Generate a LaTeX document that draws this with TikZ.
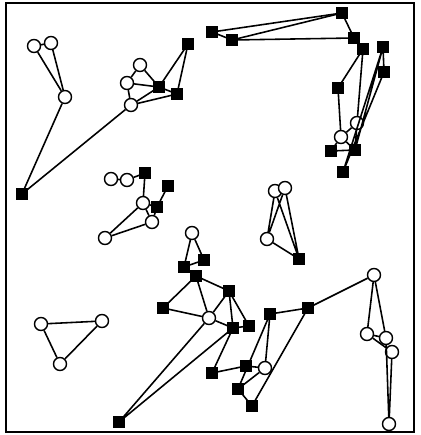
\documentclass[tikz,border=0pt]{standalone}
\usepackage{tikz}

\tikzset{
    wn/.style={circle, draw, fill=white, line width=0.8pt, minimum size=7.4pt, inner sep=0pt},
    bn/.style={rectangle, draw, fill=black, minimum size=5.9pt, inner sep=0pt},
    lk/.style={line width=0.9pt}
}

\begin{document}
\begin{tikzpicture}[x=0.02cm, y=-0.02cm]
    \useasboundingbox (0,0) rectangle (420,435);
    \draw[line width=1.3pt] (6,3) rectangle (414,432);

    % Top left
    \node[wn] (a1) at (34,46) {};
    \node[wn] (a2) at (51,43) {};
    \node[wn] (a3) at (65,97) {};
    \node[bn] (s1) at (22,194) {};
    \node[wn] (b1) at (140,65) {};
    \node[wn] (b2) at (127,83) {};
    \node[wn] (b3) at (131,105) {};
    \node[bn] (b4) at (159,87) {};
    \node[bn] (b5) at (177,94) {};
    \node[bn] (b6) at (188,44) {};
    \draw[lk] (a1) -- (a2) -- (a3) -- (a1);
    \draw[lk] (a3) -- (s1) -- (b3);
    \draw[lk] (b1) -- (b2) -- (b3) -- (b4) -- (b1);
    \draw[lk] (b2) -- (b4) -- (b5) -- (b6) -- (b4);
    \draw[lk] (b3) -- (b5);

    % Top right
    \node[bn] (t1) at (212,32) {};
    \node[bn] (t2) at (232,40) {};
    \node[bn] (t3) at (342,13) {};
    \node[bn] (t4) at (354,38) {};
    \draw[lk] (t1) -- (t3) -- (t4) -- (t2) -- (t1);
    \draw[lk] (t2) -- (t3);

    \node[bn] (r2) at (363,49) {};
    \node[bn] (r3) at (383,47) {};
    \node[bn] (r4) at (384,72) {};
    \node[bn] (r5) at (338,88) {};
    \node[wn] (r6) at (357,123) {};
    \node[wn] (r7) at (341,137) {};
    \node[bn] (r8) at (331,151) {};
    \node[bn] (r9) at (355,150) {};
    \node[bn] (r10) at (343,172) {};
    \draw[lk] (r2) -- (r5) -- (r7) -- (r6) -- (r2);
    \draw[lk] (r6) -- (r9) -- (r7) -- (r8) -- (r9);
    \draw[lk] (r3) -- (r4) -- (r10) -- (r3) -- (r9);

    % Middle
    \node[wn] (m1) at (111,179) {};
    \node[wn] (m2) at (127,180) {};
    \node[bn] (m3) at (145,173) {};
    \node[bn] (m4) at (168,186) {};
    \node[wn] (m5) at (143,203) {};
    \node[bn] (m6) at (157,207) {};
    \node[wn] (m7) at (152,222) {};
    \node[wn] (m8) at (105,238) {};
    \draw[lk] (m1) -- (m2) -- (m3) -- (m5) -- (m6) -- (m4);
    \draw[lk] (m5) -- (m8) -- (m7) -- (m6);
    \draw[lk] (m5) -- (m7);

    \node[wn] (p1) at (275,191) {};
    \node[wn] (p2) at (285,188) {};
    \node[wn] (p3) at (267,239) {};
    \node[bn] (p4) at (299,259) {};
    \draw[lk] (p1) -- (p3) -- (p2) -- (p4) -- (p1);
    \draw[lk] (p3) -- (p4);

    \node[wn] (q1) at (192,233) {};
    \node[bn] (q2) at (184,267) {};
    \node[bn] (q3) at (204,260) {};
    \draw[lk] (q1) -- (q2) -- (q3) -- (q1);

    % Bottom
    \node[bn] (l1) at (196,276) {};
    \node[bn] (l2) at (163,308) {};
    \node[bn] (l3) at (229,291) {};
    \node[wn] (l4) at (209,318) {};
    \node[bn] (l5) at (233,328) {};
    \node[bn] (l6) at (249,326) {};
    \node[bn] (s2) at (119,422) {};
    \draw[lk] (l2) -- (l1) -- (l3) -- (l4) -- (l2);
    \draw[lk] (l1) -- (l4) -- (l5) -- (l3) -- (l6) -- (l5);
    \draw[lk] (l4) -- (s2) -- (l5);

    \node[bn] (k1) at (212,373) {};
    \node[bn] (k2) at (246,366) {};
    \node[wn] (k3) at (265,368) {};
    \node[bn] (k4) at (238,389) {};
    \node[bn] (k5) at (252,406) {};
    \node[bn] (k6) at (270,314) {};
    \node[bn] (k7) at (308,308) {};
    \draw[lk] (l5) -- (k1) -- (k2) -- (k3) -- (k6) -- (k4) -- (k3);
    \draw[lk] (k4) -- (k5) -- (k7) -- (k6);

    \node[wn] (u1) at (374,275) {};
    \node[wn] (u2) at (367,334) {};
    \node[wn] (u3) at (386,338) {};
    \node[wn] (u4) at (392,352) {};
    \node[wn] (u5) at (389,424) {};
    \draw[lk] (k7) -- (u1) -- (u2) -- (u3) -- (u1);
    \draw[lk] (u2) -- (u4) -- (u5) -- (u3);

    \node[wn] (v1) at (41,324) {};
    \node[wn] (v2) at (102,321) {};
    \node[wn] (v3) at (60,364) {};
    \draw[lk] (v1) -- (v2) -- (v3) -- (v1);
\end{tikzpicture}
\end{document}
